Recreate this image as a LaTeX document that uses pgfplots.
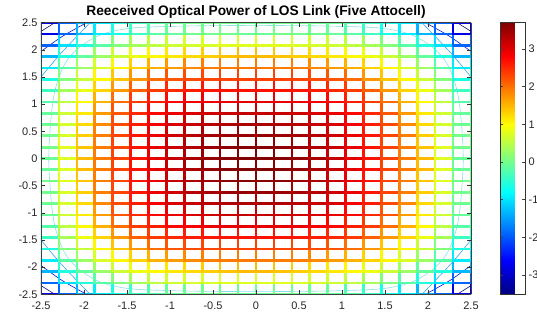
\documentclass[border=0pt]{standalone}
\usepackage{pgfplots}
\pgfplotsset{compat=1.18}
\usepackage{fontspec}
\setmainfont{Liberation Sans}
\definecolor{cnavy}{rgb}{0.05,0.05,0.55}
\definecolor{cblue}{rgb}{0.0,0.1,0.85}
\definecolor{ccyanblue}{rgb}{0.2,0.65,0.95}
\definecolor{clightcyan}{rgb}{0.55,0.88,0.92}
\begin{document}
\begin{tikzpicture}
\useasboundingbox (-41bp,-18.7bp) rectangle (496bp,294.3bp);
\begin{axis}[
  view={0}{90},
  scale only axis,
  width=430bp, height=271.6bp,
  xmin=-2.5, xmax=2.5, ymin=-2.5, ymax=2.5,
  xtick={-2.5,-2,-1.5,-1,-0.5,0,0.5,1,1.5,2,2.5},
  ytick={-2.5,-2,-1.5,-1,-0.5,0,0.5,1,1.5,2,2.5},
  axis on top,
  tick align=inside,
  major tick length=4bp,
  tick style={line width=0.6bp, color=black!80},
  axis line style={line width=0.7bp, color=black!75},
  /pgf/number format/assume math mode=true,
  ticklabel style={font=\fontsize{11}{13}\selectfont, color=black!85},
  xticklabel style={yshift=-4bp},
  title={\bfseries Reeceived Optical Power of LOS Link (Five Attocell)},
  title style={font=\fontsize{13.8}{16}\selectfont, at={(0.5,1)}, anchor=base, yshift=1.2bp},
  colormap/jet,
  point meta min=-3.51, point meta max=3.70,
  colorbar,
  colorbar style={
    at={(parent axis.north east)}, anchor=north west, xshift=20.7bp,
    scale only axis, width=25bp, height=271.6bp,
    ytick={-3,-2,-1,0,1,2,3},
    tick align=inside, major tick length=3bp,
    tick style={line width=0.5bp, color=black!75},
    axis line style={line width=0.8bp, color=black!80},
    yticklabel pos=right,
    /pgf/number format/assume math mode=true,
    yticklabel style={font=\fontsize{11}{13}\selectfont, color=black!85},
  },
]
% contour lines of the base plane (meshc)
\addplot3[clightcyan, line width=0.6bp, smooth, no marks] coordinates {
(0,2.45,-3.6) (-0.8,2.44,-3.6) (-1.45,2.40,-3.6) (-1.8,2.28,-3.6) (-2.05,2.05,-3.6) (-2.22,1.75,-3.6) (-2.33,1.3,-3.6) (-2.38,0.8,-3.6) (-2.41,0,-3.6) (-2.38,-0.8,-3.6) (-2.33,-1.3,-3.6) (-2.22,-1.75,-3.6) (-2.05,-2.05,-3.6) (-1.8,-2.28,-3.6) (-1.45,-2.40,-3.6) (-0.8,-2.44,-3.6) (0,-2.45,-3.6) (0.8,-2.44,-3.6) (1.45,-2.40,-3.6) (1.8,-2.28,-3.6) (2.05,-2.05,-3.6) (2.22,-1.75,-3.6) (2.33,-1.3,-3.6) (2.38,-0.8,-3.6) (2.41,0,-3.6) (2.38,0.8,-3.6) (2.33,1.3,-3.6) (2.22,1.75,-3.6) (2.05,2.05,-3.6) (1.8,2.28,-3.6) (1.45,2.40,-3.6) (0.8,2.44,-3.6) (0,2.45,-3.6)
};
\addplot3[ccyanblue, line width=0.6bp, smooth, no marks] coordinates {(-2.5,1.5,-3.6) (-2.3,1.88,-3.6) (-2.1,2.22,-3.6) (-1.93,2.5,-3.6)};
\addplot3[ccyanblue, line width=0.6bp, smooth, no marks] coordinates {(2.5,1.5,-3.6) (2.3,1.88,-3.6) (2.1,2.22,-3.6) (1.93,2.5,-3.6)};
\addplot3[ccyanblue, line width=0.6bp, smooth, no marks] coordinates {(-2.5,-1.5,-3.6) (-2.3,-1.88,-3.6) (-2.1,-2.22,-3.6) (-1.93,-2.5,-3.6)};
\addplot3[ccyanblue, line width=0.6bp, smooth, no marks] coordinates {(2.5,-1.5,-3.6) (2.3,-1.88,-3.6) (2.1,-2.22,-3.6) (1.93,-2.5,-3.6)};
\addplot3[cblue, line width=0.6bp, smooth, no marks] coordinates {(-2.5,1.97,-3.6) (-2.25,2.25,-3.6) (-1.97,2.5,-3.6)};
\addplot3[cblue, line width=0.6bp, smooth, no marks] coordinates {(2.5,1.97,-3.6) (2.25,2.25,-3.6) (1.97,2.5,-3.6)};
\addplot3[cblue, line width=0.6bp, smooth, no marks] coordinates {(-2.5,-1.97,-3.6) (-2.25,-2.25,-3.6) (-1.97,-2.5,-3.6)};
\addplot3[cblue, line width=0.6bp, smooth, no marks] coordinates {(2.5,-1.97,-3.6) (2.25,-2.25,-3.6) (1.97,-2.5,-3.6)};
\addplot3[cnavy, line width=0.6bp, no marks] coordinates {(-2.5,2.34,-3.6) (-2.34,2.5,-3.6)};
\addplot3[cnavy, line width=0.6bp, no marks] coordinates {(2.5,2.34,-3.6) (2.34,2.5,-3.6)};
\addplot3[cnavy, line width=0.6bp, no marks] coordinates {(-2.5,-2.34,-3.6) (-2.34,-2.5,-3.6)};
\addplot3[cnavy, line width=0.6bp, no marks] coordinates {(2.5,-2.34,-3.6) (2.34,-2.5,-3.6)};
% mesh of the received power (dBm)
\addplot3[mesh, mesh/rows=25, mesh/cols=25, shader=flat mean, line width=2.7bp]
table[x=x, y=y, z=z, row sep=\\] {
x y z\\
-2.5 -2.5 -3.55\\ -2.292 -2.5 -3.05\\ -2.083 -2.5 -1.99\\ -1.875 -2.5 -1.59\\ -1.667 -2.5 -1.24\\ -1.458 -2.5 -0.96\\ -1.25 -2.5 -0.75\\ -1.042 -2.5 -0.60\\ -0.833 -2.5 -0.50\\ -0.625 -2.5 -0.46\\ -0.417 -2.5 -0.43\\ -0.208 -2.5 -0.42\\ 0 -2.5 -0.42\\ 0.208 -2.5 -0.42\\ 0.417 -2.5 -0.43\\ 0.625 -2.5 -0.46\\ 0.833 -2.5 -0.50\\ 1.042 -2.5 -0.60\\ 1.25 -2.5 -0.75\\ 1.458 -2.5 -0.96\\ 1.667 -2.5 -1.24\\ 1.875 -2.5 -1.59\\ 2.083 -2.5 -1.99\\ 2.292 -2.5 -3.05\\ 2.5 -2.5 -3.55\\
-2.5 -2.292 -3.05\\ -2.292 -2.292 -1.48\\ -2.083 -2.292 -1.02\\ -1.875 -2.292 -0.62\\ -1.667 -2.292 -0.27\\ -1.458 -2.292 0.00\\ -1.25 -2.292 0.20\\ -1.042 -2.292 0.34\\ -0.833 -2.292 0.42\\ -0.625 -2.292 0.44\\ -0.417 -2.292 0.46\\ -0.208 -2.292 0.45\\ 0 -2.292 0.14\\ 0.208 -2.292 0.45\\ 0.417 -2.292 0.46\\ 0.625 -2.292 0.44\\ 0.833 -2.292 0.42\\ 1.042 -2.292 0.34\\ 1.25 -2.292 0.20\\ 1.458 -2.292 0.00\\ 1.667 -2.292 -0.27\\ 1.875 -2.292 -0.62\\ 2.083 -2.292 -1.02\\ 2.292 -2.292 -1.48\\ 2.5 -2.292 -3.05\\
-2.5 -2.083 -1.99\\ -2.292 -2.083 -1.02\\ -2.083 -2.083 -0.54\\ -1.875 -2.083 -0.11\\ -1.667 -2.083 0.25\\ -1.458 -2.083 0.53\\ -1.25 -2.083 0.74\\ -1.042 -2.083 0.87\\ -0.833 -2.083 0.95\\ -0.625 -2.083 0.98\\ -0.417 -2.083 0.98\\ -0.208 -2.083 1.24\\ 0 -2.083 1.24\\ 0.208 -2.083 1.24\\ 0.417 -2.083 0.98\\ 0.625 -2.083 0.98\\ 0.833 -2.083 0.95\\ 1.042 -2.083 0.87\\ 1.25 -2.083 0.74\\ 1.458 -2.083 0.53\\ 1.667 -2.083 0.25\\ 1.875 -2.083 -0.11\\ 2.083 -2.083 -0.54\\ 2.292 -2.083 -1.02\\ 2.5 -2.083 -1.99\\
-2.5 -1.875 -1.59\\ -2.292 -1.875 -0.62\\ -2.083 -1.875 -0.11\\ -1.875 -1.875 0.33\\ -1.667 -1.875 0.71\\ -1.458 -1.875 1.00\\ -1.25 -1.875 1.22\\ -1.042 -1.875 1.36\\ -0.833 -1.875 1.44\\ -0.625 -1.875 1.69\\ -0.417 -1.875 1.71\\ -0.208 -1.875 1.71\\ 0 -1.875 1.71\\ 0.208 -1.875 1.71\\ 0.417 -1.875 1.71\\ 0.625 -1.875 1.69\\ 0.833 -1.875 1.44\\ 1.042 -1.875 1.36\\ 1.25 -1.875 1.22\\ 1.458 -1.875 1.00\\ 1.667 -1.875 0.71\\ 1.875 -1.875 0.33\\ 2.083 -1.875 -0.11\\ 2.292 -1.875 -0.62\\ 2.5 -1.875 -1.59\\
-2.5 -1.667 -1.24\\ -2.292 -1.667 -0.27\\ -2.083 -1.667 0.25\\ -1.875 -1.667 0.71\\ -1.667 -1.667 1.10\\ -1.458 -1.667 1.40\\ -1.25 -1.667 1.63\\ -1.042 -1.667 1.98\\ -0.833 -1.667 2.07\\ -0.625 -1.667 2.12\\ -0.417 -1.667 2.13\\ -0.208 -1.667 2.15\\ 0 -1.667 2.15\\ 0.208 -1.667 2.15\\ 0.417 -1.667 2.13\\ 0.625 -1.667 2.12\\ 0.833 -1.667 2.07\\ 1.042 -1.667 1.98\\ 1.25 -1.667 1.63\\ 1.458 -1.667 1.40\\ 1.667 -1.667 1.10\\ 1.875 -1.667 0.71\\ 2.083 -1.667 0.25\\ 2.292 -1.667 -0.27\\ 2.5 -1.667 -1.24\\
-2.5 -1.458 -0.96\\ -2.292 -1.458 0.00\\ -2.083 -1.458 0.53\\ -1.875 -1.458 1.00\\ -1.667 -1.458 1.40\\ -1.458 -1.458 1.72\\ -1.25 -1.458 2.16\\ -1.042 -1.458 2.33\\ -0.833 -1.458 2.42\\ -0.625 -1.458 2.48\\ -0.417 -1.458 2.51\\ -0.208 -1.458 2.52\\ 0 -1.458 2.52\\ 0.208 -1.458 2.52\\ 0.417 -1.458 2.51\\ 0.625 -1.458 2.48\\ 0.833 -1.458 2.42\\ 1.042 -1.458 2.33\\ 1.25 -1.458 2.16\\ 1.458 -1.458 1.72\\ 1.667 -1.458 1.40\\ 1.875 -1.458 1.00\\ 2.083 -1.458 0.53\\ 2.292 -1.458 0.00\\ 2.5 -1.458 -0.96\\
-2.5 -1.25 -0.75\\ -2.292 -1.25 0.20\\ -2.083 -1.25 0.74\\ -1.875 -1.25 1.22\\ -1.667 -1.25 1.63\\ -1.458 -1.25 2.16\\ -1.25 -1.25 2.41\\ -1.042 -1.25 2.59\\ -0.833 -1.25 2.71\\ -0.625 -1.25 2.78\\ -0.417 -1.25 2.82\\ -0.208 -1.25 2.83\\ 0 -1.25 2.83\\ 0.208 -1.25 2.83\\ 0.417 -1.25 2.82\\ 0.625 -1.25 2.78\\ 0.833 -1.25 2.71\\ 1.042 -1.25 2.59\\ 1.25 -1.25 2.41\\ 1.458 -1.25 2.16\\ 1.667 -1.25 1.63\\ 1.875 -1.25 1.22\\ 2.083 -1.25 0.74\\ 2.292 -1.25 0.20\\ 2.5 -1.25 -0.75\\
-2.5 -1.042 -0.60\\ -2.292 -1.042 0.34\\ -2.083 -1.042 0.87\\ -1.875 -1.042 1.36\\ -1.667 -1.042 1.98\\ -1.458 -1.042 2.33\\ -1.25 -1.042 2.59\\ -1.042 -1.042 2.79\\ -0.833 -1.042 2.92\\ -0.625 -1.042 3.01\\ -0.417 -1.042 3.07\\ -0.208 -1.042 3.10\\ 0 -1.042 3.10\\ 0.208 -1.042 3.10\\ 0.417 -1.042 3.07\\ 0.625 -1.042 3.01\\ 0.833 -1.042 2.92\\ 1.042 -1.042 2.79\\ 1.25 -1.042 2.59\\ 1.458 -1.042 2.33\\ 1.667 -1.042 1.98\\ 1.875 -1.042 1.36\\ 2.083 -1.042 0.87\\ 2.292 -1.042 0.34\\ 2.5 -1.042 -0.60\\
-2.5 -0.833 -0.50\\ -2.292 -0.833 0.42\\ -2.083 -0.833 0.95\\ -1.875 -0.833 1.44\\ -1.667 -0.833 2.07\\ -1.458 -0.833 2.42\\ -1.25 -0.833 2.71\\ -1.042 -0.833 2.92\\ -0.833 -0.833 3.09\\ -0.625 -0.833 3.19\\ -0.417 -0.833 3.26\\ -0.208 -0.833 3.31\\ 0 -0.833 3.32\\ 0.208 -0.833 3.31\\ 0.417 -0.833 3.26\\ 0.625 -0.833 3.19\\ 0.833 -0.833 3.09\\ 1.042 -0.833 2.92\\ 1.25 -0.833 2.71\\ 1.458 -0.833 2.42\\ 1.667 -0.833 2.07\\ 1.875 -0.833 1.44\\ 2.083 -0.833 0.95\\ 2.292 -0.833 0.42\\ 2.5 -0.833 -0.50\\
-2.5 -0.625 -0.46\\ -2.292 -0.625 0.44\\ -2.083 -0.625 0.98\\ -1.875 -0.625 1.69\\ -1.667 -0.625 2.12\\ -1.458 -0.625 2.48\\ -1.25 -0.625 2.78\\ -1.042 -0.625 3.01\\ -0.833 -0.625 3.19\\ -0.625 -0.625 3.32\\ -0.417 -0.625 3.41\\ -0.208 -0.625 3.46\\ 0 -0.625 3.48\\ 0.208 -0.625 3.46\\ 0.417 -0.625 3.41\\ 0.625 -0.625 3.32\\ 0.833 -0.625 3.19\\ 1.042 -0.625 3.01\\ 1.25 -0.625 2.78\\ 1.458 -0.625 2.48\\ 1.667 -0.625 2.12\\ 1.875 -0.625 1.69\\ 2.083 -0.625 0.98\\ 2.292 -0.625 0.44\\ 2.5 -0.625 -0.46\\
-2.5 -0.417 -0.43\\ -2.292 -0.417 0.46\\ -2.083 -0.417 0.98\\ -1.875 -0.417 1.71\\ -1.667 -0.417 2.13\\ -1.458 -0.417 2.51\\ -1.25 -0.417 2.82\\ -1.042 -0.417 3.07\\ -0.833 -0.417 3.26\\ -0.625 -0.417 3.41\\ -0.417 -0.417 3.52\\ -0.208 -0.417 3.58\\ 0 -0.417 3.61\\ 0.208 -0.417 3.58\\ 0.417 -0.417 3.52\\ 0.625 -0.417 3.41\\ 0.833 -0.417 3.26\\ 1.042 -0.417 3.07\\ 1.25 -0.417 2.82\\ 1.458 -0.417 2.51\\ 1.667 -0.417 2.13\\ 1.875 -0.417 1.71\\ 2.083 -0.417 0.98\\ 2.292 -0.417 0.46\\ 2.5 -0.417 -0.43\\
-2.5 -0.208 -0.42\\ -2.292 -0.208 0.45\\ -2.083 -0.208 1.24\\ -1.875 -0.208 1.71\\ -1.667 -0.208 2.15\\ -1.458 -0.208 2.52\\ -1.25 -0.208 2.83\\ -1.042 -0.208 3.10\\ -0.833 -0.208 3.31\\ -0.625 -0.208 3.46\\ -0.417 -0.208 3.58\\ -0.208 -0.208 3.66\\ 0 -0.208 3.68\\ 0.208 -0.208 3.66\\ 0.417 -0.208 3.58\\ 0.625 -0.208 3.46\\ 0.833 -0.208 3.31\\ 1.042 -0.208 3.10\\ 1.25 -0.208 2.83\\ 1.458 -0.208 2.52\\ 1.667 -0.208 2.15\\ 1.875 -0.208 1.71\\ 2.083 -0.208 1.24\\ 2.292 -0.208 0.45\\ 2.5 -0.208 -0.42\\
-2.5 0 -0.42\\ -2.292 0 0.14\\ -2.083 0 1.24\\ -1.875 0 1.71\\ -1.667 0 2.15\\ -1.458 0 2.52\\ -1.25 0 2.83\\ -1.042 0 3.10\\ -0.833 0 3.32\\ -0.625 0 3.48\\ -0.417 0 3.61\\ -0.208 0 3.68\\ 0 0 3.70\\ 0.208 0 3.68\\ 0.417 0 3.61\\ 0.625 0 3.48\\ 0.833 0 3.32\\ 1.042 0 3.10\\ 1.25 0 2.83\\ 1.458 0 2.52\\ 1.667 0 2.15\\ 1.875 0 1.71\\ 2.083 0 1.24\\ 2.292 0 0.14\\ 2.5 0 -0.42\\
-2.5 0.208 -0.42\\ -2.292 0.208 0.45\\ -2.083 0.208 1.24\\ -1.875 0.208 1.71\\ -1.667 0.208 2.15\\ -1.458 0.208 2.52\\ -1.25 0.208 2.83\\ -1.042 0.208 3.10\\ -0.833 0.208 3.31\\ -0.625 0.208 3.46\\ -0.417 0.208 3.58\\ -0.208 0.208 3.66\\ 0 0.208 3.68\\ 0.208 0.208 3.66\\ 0.417 0.208 3.58\\ 0.625 0.208 3.46\\ 0.833 0.208 3.31\\ 1.042 0.208 3.10\\ 1.25 0.208 2.83\\ 1.458 0.208 2.52\\ 1.667 0.208 2.15\\ 1.875 0.208 1.71\\ 2.083 0.208 1.24\\ 2.292 0.208 0.45\\ 2.5 0.208 -0.42\\
-2.5 0.417 -0.43\\ -2.292 0.417 0.46\\ -2.083 0.417 0.98\\ -1.875 0.417 1.71\\ -1.667 0.417 2.13\\ -1.458 0.417 2.51\\ -1.25 0.417 2.82\\ -1.042 0.417 3.07\\ -0.833 0.417 3.26\\ -0.625 0.417 3.41\\ -0.417 0.417 3.52\\ -0.208 0.417 3.58\\ 0 0.417 3.61\\ 0.208 0.417 3.58\\ 0.417 0.417 3.52\\ 0.625 0.417 3.41\\ 0.833 0.417 3.26\\ 1.042 0.417 3.07\\ 1.25 0.417 2.82\\ 1.458 0.417 2.51\\ 1.667 0.417 2.13\\ 1.875 0.417 1.71\\ 2.083 0.417 0.98\\ 2.292 0.417 0.46\\ 2.5 0.417 -0.43\\
-2.5 0.625 -0.46\\ -2.292 0.625 0.44\\ -2.083 0.625 0.98\\ -1.875 0.625 1.69\\ -1.667 0.625 2.12\\ -1.458 0.625 2.48\\ -1.25 0.625 2.78\\ -1.042 0.625 3.01\\ -0.833 0.625 3.19\\ -0.625 0.625 3.32\\ -0.417 0.625 3.41\\ -0.208 0.625 3.46\\ 0 0.625 3.48\\ 0.208 0.625 3.46\\ 0.417 0.625 3.41\\ 0.625 0.625 3.32\\ 0.833 0.625 3.19\\ 1.042 0.625 3.01\\ 1.25 0.625 2.78\\ 1.458 0.625 2.48\\ 1.667 0.625 2.12\\ 1.875 0.625 1.69\\ 2.083 0.625 0.98\\ 2.292 0.625 0.44\\ 2.5 0.625 -0.46\\
-2.5 0.833 -0.50\\ -2.292 0.833 0.42\\ -2.083 0.833 0.95\\ -1.875 0.833 1.44\\ -1.667 0.833 2.07\\ -1.458 0.833 2.42\\ -1.25 0.833 2.71\\ -1.042 0.833 2.92\\ -0.833 0.833 3.09\\ -0.625 0.833 3.19\\ -0.417 0.833 3.26\\ -0.208 0.833 3.31\\ 0 0.833 3.32\\ 0.208 0.833 3.31\\ 0.417 0.833 3.26\\ 0.625 0.833 3.19\\ 0.833 0.833 3.09\\ 1.042 0.833 2.92\\ 1.25 0.833 2.71\\ 1.458 0.833 2.42\\ 1.667 0.833 2.07\\ 1.875 0.833 1.44\\ 2.083 0.833 0.95\\ 2.292 0.833 0.42\\ 2.5 0.833 -0.50\\
-2.5 1.042 -0.60\\ -2.292 1.042 0.34\\ -2.083 1.042 0.87\\ -1.875 1.042 1.36\\ -1.667 1.042 1.98\\ -1.458 1.042 2.33\\ -1.25 1.042 2.59\\ -1.042 1.042 2.79\\ -0.833 1.042 2.92\\ -0.625 1.042 3.01\\ -0.417 1.042 3.07\\ -0.208 1.042 3.10\\ 0 1.042 3.10\\ 0.208 1.042 3.10\\ 0.417 1.042 3.07\\ 0.625 1.042 3.01\\ 0.833 1.042 2.92\\ 1.042 1.042 2.79\\ 1.25 1.042 2.59\\ 1.458 1.042 2.33\\ 1.667 1.042 1.98\\ 1.875 1.042 1.36\\ 2.083 1.042 0.87\\ 2.292 1.042 0.34\\ 2.5 1.042 -0.60\\
-2.5 1.25 -0.75\\ -2.292 1.25 0.20\\ -2.083 1.25 0.74\\ -1.875 1.25 1.22\\ -1.667 1.25 1.63\\ -1.458 1.25 2.16\\ -1.25 1.25 2.41\\ -1.042 1.25 2.59\\ -0.833 1.25 2.71\\ -0.625 1.25 2.78\\ -0.417 1.25 2.82\\ -0.208 1.25 2.83\\ 0 1.25 2.83\\ 0.208 1.25 2.83\\ 0.417 1.25 2.82\\ 0.625 1.25 2.78\\ 0.833 1.25 2.71\\ 1.042 1.25 2.59\\ 1.25 1.25 2.41\\ 1.458 1.25 2.16\\ 1.667 1.25 1.63\\ 1.875 1.25 1.22\\ 2.083 1.25 0.74\\ 2.292 1.25 0.20\\ 2.5 1.25 -0.75\\
-2.5 1.458 -0.96\\ -2.292 1.458 0.00\\ -2.083 1.458 0.53\\ -1.875 1.458 1.00\\ -1.667 1.458 1.40\\ -1.458 1.458 1.72\\ -1.25 1.458 2.16\\ -1.042 1.458 2.33\\ -0.833 1.458 2.42\\ -0.625 1.458 2.48\\ -0.417 1.458 2.51\\ -0.208 1.458 2.52\\ 0 1.458 2.52\\ 0.208 1.458 2.52\\ 0.417 1.458 2.51\\ 0.625 1.458 2.48\\ 0.833 1.458 2.42\\ 1.042 1.458 2.33\\ 1.25 1.458 2.16\\ 1.458 1.458 1.72\\ 1.667 1.458 1.40\\ 1.875 1.458 1.00\\ 2.083 1.458 0.53\\ 2.292 1.458 0.00\\ 2.5 1.458 -0.96\\
-2.5 1.667 -1.24\\ -2.292 1.667 -0.27\\ -2.083 1.667 0.25\\ -1.875 1.667 0.71\\ -1.667 1.667 1.10\\ -1.458 1.667 1.40\\ -1.25 1.667 1.63\\ -1.042 1.667 1.98\\ -0.833 1.667 2.07\\ -0.625 1.667 2.12\\ -0.417 1.667 2.13\\ -0.208 1.667 2.15\\ 0 1.667 2.15\\ 0.208 1.667 2.15\\ 0.417 1.667 2.13\\ 0.625 1.667 2.12\\ 0.833 1.667 2.07\\ 1.042 1.667 1.98\\ 1.25 1.667 1.63\\ 1.458 1.667 1.40\\ 1.667 1.667 1.10\\ 1.875 1.667 0.71\\ 2.083 1.667 0.25\\ 2.292 1.667 -0.27\\ 2.5 1.667 -1.24\\
-2.5 1.875 -1.59\\ -2.292 1.875 -0.62\\ -2.083 1.875 -0.11\\ -1.875 1.875 0.33\\ -1.667 1.875 0.71\\ -1.458 1.875 1.00\\ -1.25 1.875 1.22\\ -1.042 1.875 1.36\\ -0.833 1.875 1.44\\ -0.625 1.875 1.69\\ -0.417 1.875 1.71\\ -0.208 1.875 1.71\\ 0 1.875 1.71\\ 0.208 1.875 1.71\\ 0.417 1.875 1.71\\ 0.625 1.875 1.69\\ 0.833 1.875 1.44\\ 1.042 1.875 1.36\\ 1.25 1.875 1.22\\ 1.458 1.875 1.00\\ 1.667 1.875 0.71\\ 1.875 1.875 0.33\\ 2.083 1.875 -0.11\\ 2.292 1.875 -0.62\\ 2.5 1.875 -1.59\\
-2.5 2.083 -1.99\\ -2.292 2.083 -1.02\\ -2.083 2.083 -0.54\\ -1.875 2.083 -0.11\\ -1.667 2.083 0.25\\ -1.458 2.083 0.53\\ -1.25 2.083 0.74\\ -1.042 2.083 0.87\\ -0.833 2.083 0.95\\ -0.625 2.083 0.98\\ -0.417 2.083 0.98\\ -0.208 2.083 1.24\\ 0 2.083 1.24\\ 0.208 2.083 1.24\\ 0.417 2.083 0.98\\ 0.625 2.083 0.98\\ 0.833 2.083 0.95\\ 1.042 2.083 0.87\\ 1.25 2.083 0.74\\ 1.458 2.083 0.53\\ 1.667 2.083 0.25\\ 1.875 2.083 -0.11\\ 2.083 2.083 -0.54\\ 2.292 2.083 -1.02\\ 2.5 2.083 -1.99\\
-2.5 2.292 -3.05\\ -2.292 2.292 -1.48\\ -2.083 2.292 -1.02\\ -1.875 2.292 -0.62\\ -1.667 2.292 -0.27\\ -1.458 2.292 0.00\\ -1.25 2.292 0.20\\ -1.042 2.292 0.34\\ -0.833 2.292 0.42\\ -0.625 2.292 0.44\\ -0.417 2.292 0.46\\ -0.208 2.292 0.45\\ 0 2.292 0.14\\ 0.208 2.292 0.45\\ 0.417 2.292 0.46\\ 0.625 2.292 0.44\\ 0.833 2.292 0.42\\ 1.042 2.292 0.34\\ 1.25 2.292 0.20\\ 1.458 2.292 0.00\\ 1.667 2.292 -0.27\\ 1.875 2.292 -0.62\\ 2.083 2.292 -1.02\\ 2.292 2.292 -1.48\\ 2.5 2.292 -3.05\\
-2.5 2.5 -3.55\\ -2.292 2.5 -3.05\\ -2.083 2.5 -1.99\\ -1.875 2.5 -1.59\\ -1.667 2.5 -1.24\\ -1.458 2.5 -0.96\\ -1.25 2.5 -0.75\\ -1.042 2.5 -0.60\\ -0.833 2.5 -0.50\\ -0.625 2.5 -0.46\\ -0.417 2.5 -0.43\\ -0.208 2.5 -0.42\\ 0 2.5 -0.42\\ 0.208 2.5 -0.42\\ 0.417 2.5 -0.43\\ 0.625 2.5 -0.46\\ 0.833 2.5 -0.50\\ 1.042 2.5 -0.60\\ 1.25 2.5 -0.75\\ 1.458 2.5 -0.96\\ 1.667 2.5 -1.24\\ 1.875 2.5 -1.59\\ 2.083 2.5 -1.99\\ 2.292 2.5 -3.05\\ 2.5 2.5 -3.55\\
};
\end{axis}
\end{tikzpicture}
\end{document}
